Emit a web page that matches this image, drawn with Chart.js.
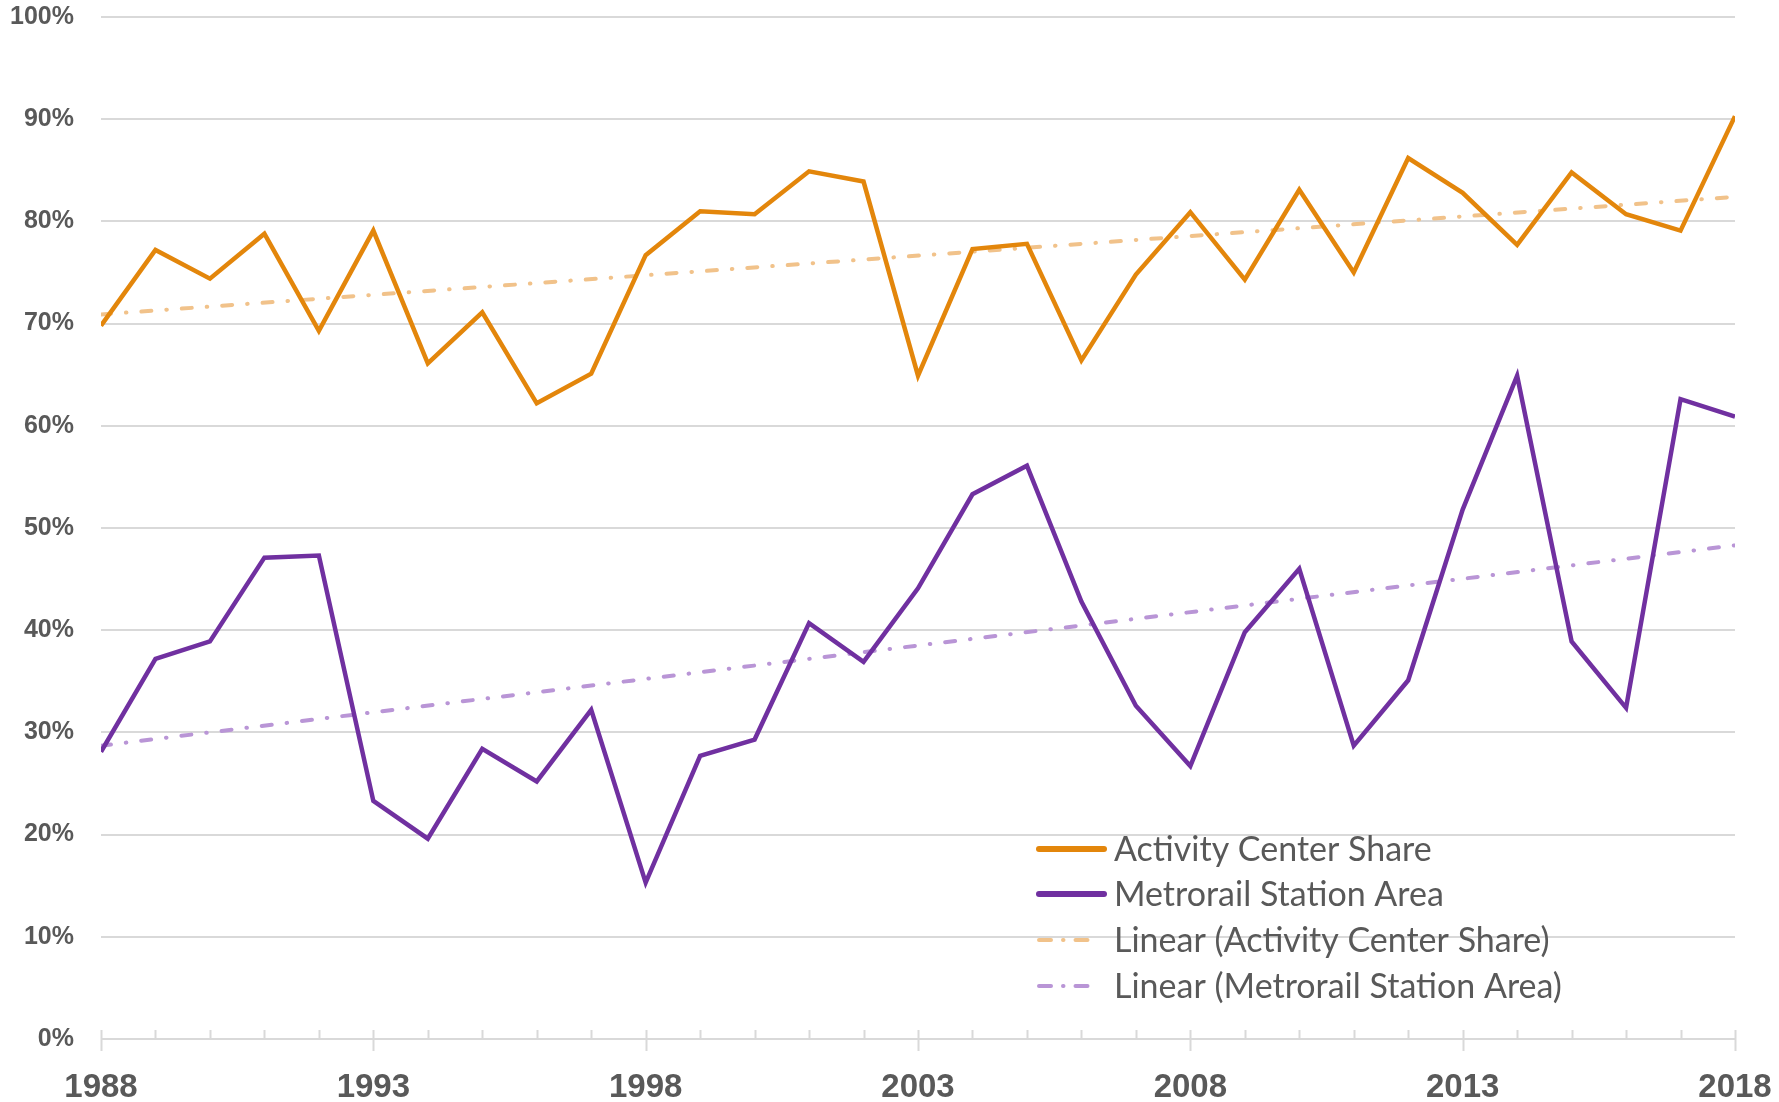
<!DOCTYPE html>
<html>
<head>
<meta charset="utf-8">
<script src="https://cdn.jsdelivr.net/npm/chart.js@4.4.1/dist/chart.umd.min.js"></script>
<style>
  html, body { margin: 0; padding: 0; background: #ffffff; }
  #wrap { width: 1779px; height: 1102px; position: relative; }
</style>
</head>
<body>
<div id="wrap"><canvas id="myChart"></canvas></div>
<script>
var years = [1988, 1989, 1990, 1991, 1992, 1993, 1994, 1995, 1996, 1997, 1998,
  1999, 2000, 2001, 2002, 2003, 2004, 2005, 2006, 2007, 2008,
  2009, 2010, 2011, 2012, 2013, 2014, 2015, 2016, 2017, 2018];

var activityShare = [69.8, 77.2, 74.4, 78.8, 69.3, 79.1, 66.1, 71.1, 62.2, 65.1, 76.7,
  81.0, 80.7, 84.9, 83.9, 64.9, 77.3, 77.8, 66.4, 74.8, 80.9,
  74.3, 83.1, 75.0, 86.2, 82.8, 77.7, 84.8, 80.7, 79.1, 90.3];

var metrorailShare = [28.1, 37.2, 38.9, 47.1, 47.3, 23.3, 19.6, 28.4, 25.2, 32.2, 15.3,
  27.7, 29.3, 40.7, 36.9, 44.1, 53.3, 56.1, 42.8, 32.6, 26.7,
  39.8, 46.0, 28.7, 35.1, 51.8, 64.9, 38.9, 32.4, 62.6, 60.9];

// trend line end points
var trendYears = [1988, 2018];
var activityTrend = [70.9, 82.4];
var metrorailTrend = [28.7, 48.3];

var seriesNames = ["Activity Center Share", "Metrorail Station Area",
  "Linear (Activity Center Share)", "Linear (Metrorail Station Area)"];

var majorYears = [1988, 1993, 1998, 2003, 2008, 2013, 2018];

function pts(xs, ys) {
  return xs.map(function (x, i) { return { x: x, y: ys[i] }; });
}

var textColor = "#595959";
var gridColor = "#d9d9d9";
var trendDash = [10, 15, 0.5, 15];

// small tick marks on the year axis
var yearTicks = {
  id: "yearTicks",
  beforeDatasetsDraw: function (chart) {
    var ctx = chart.ctx;
    var xs = chart.scales.x;
    var base = chart.scales.y.getPixelForValue(0);
    ctx.save();
    ctx.strokeStyle = gridColor;
    ctx.lineWidth = 2;
    years.forEach(function (yr) {
      var px = Math.round(xs.getPixelForValue(yr)) + 0.5;
      var major = majorYears.indexOf(yr) >= 0;
      ctx.beginPath();
      ctx.moveTo(px, base - 9);
      ctx.lineTo(px, major ? base + 12 : base);
      ctx.stroke();
    });
    ctx.restore();
  }
};

// legend drawn inside the plot area, bottom right
var insideLegend = {
  id: "insideLegend",
  afterDraw: function (chart) {
    var ctx = chart.ctx;
    var x0 = 1039, x1 = 1104, tx = 1114;
    var rows = [849, 894, 940, 986];
    ctx.save();
    ctx.font = "34px Lato";
    ctx.textBaseline = "alphabetic";
    chart.data.datasets.forEach(function (ds, i) {
      var y = rows[i];
      ctx.strokeStyle = ds.borderColor;
      ctx.lineWidth = ds.borderDash ? ds.borderWidth : 6;
      ctx.lineCap = "round";
      ctx.setLineDash(ds.borderDash ? [12, 12, 0.5, 12] : []);
      ctx.beginPath();
      ctx.moveTo(x0, y);
      ctx.lineTo(ds.borderDash ? x0 + 55 : x1, y);
      ctx.stroke();
      ctx.setLineDash([]);
      ctx.fillStyle = textColor;
      ctx.fillText(ds.label, tx, y + 12);
    });
    ctx.restore();
  }
};

var ctx = document.getElementById("myChart").getContext("2d");

var myChart = new Chart(ctx, {
  type: "line",
  data: {
    datasets: [
      {
        label: seriesNames[0],
        data: pts(years, activityShare),
        borderColor: "#e3860b",
        borderWidth: 4.5,
        pointRadius: 0,
        tension: 0,
        order: 1
      },
      {
        label: seriesNames[1],
        data: pts(years, metrorailShare),
        borderColor: "#7030a0",
        borderWidth: 4.5,
        pointRadius: 0,
        tension: 0,
        order: 2
      },
      {
        label: seriesNames[2],
        data: pts(trendYears, activityTrend),
        borderColor: "#f1c28a",
        borderWidth: 4,
        borderDash: trendDash,
        borderCapStyle: "round",
        pointRadius: 0,
        order: 3
      },
      {
        label: seriesNames[3],
        data: pts(trendYears, metrorailTrend),
        borderColor: "#b995d6",
        borderWidth: 4,
        borderDash: trendDash,
        borderCapStyle: "round",
        pointRadius: 0,
        order: 4
      }
    ]
  },
  options: {
    responsive: true,
    maintainAspectRatio: false,
    animation: false,
    layout: { padding: { top: 17, right: 44, left: 0, bottom: 0 } },
    plugins: {
      legend: { display: false },
      tooltip: { enabled: false }
    },
    scales: {
      x: {
        type: "linear",
        min: 1988,
        max: 2018,
        afterBuildTicks: function (scale) {
          scale.ticks = majorYears.map(function (v) { return { value: v }; });
        },
        afterFit: function (scale) {
          scale.height = 63;
          scale.paddingLeft = 0;
          scale.paddingRight = 0;
        },
        ticks: {
          autoSkip: false,
          maxRotation: 0,
          padding: 29,
          color: textColor,
          font: { family: "'Liberation Sans'", size: 33, weight: "bold" },
          callback: function (v) { return String(v); }
        },
        grid: { display: false, drawTicks: false },
        border: { display: false }
      },
      y: {
        min: 0,
        max: 100,
        ticks: {
          stepSize: 10,
          padding: 27,
          color: textColor,
          font: { family: "'Liberation Sans'", size: 25, weight: "bold" },
          callback: function (v) { return v + "%"; }
        },
        afterFit: function (scale) {
          scale.width = 101;
          scale.paddingTop = 0;
          scale.paddingBottom = 0;
        },
        grid: { color: gridColor, lineWidth: 2, drawTicks: false },
        border: { display: false }
      }
    }
  },
  plugins: [yearTicks, insideLegend]
});
</script>
</body>
</html>
